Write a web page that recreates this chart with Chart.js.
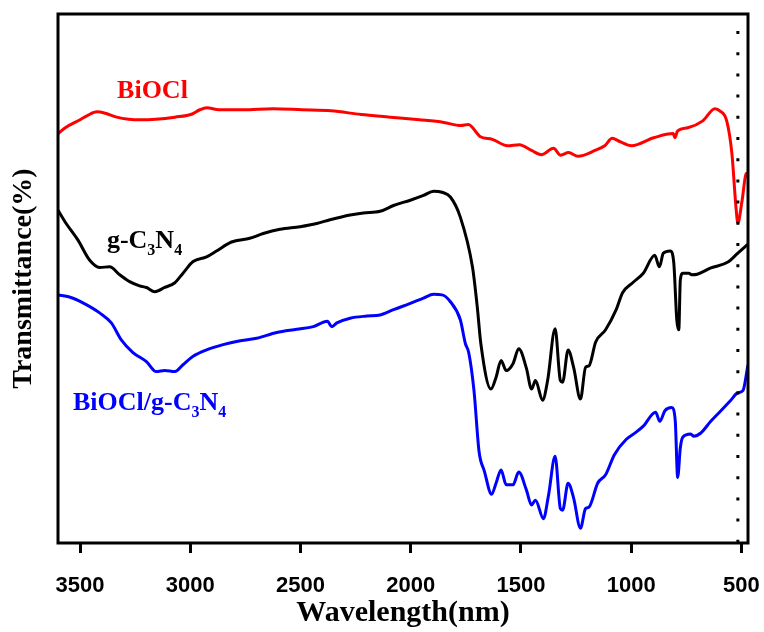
<!DOCTYPE html>
<html>
<head>
<meta charset="utf-8">
<title>FTIR spectra</title>
<script src="https://cdn.jsdelivr.net/npm/chart.js@4.4.1/dist/chart.umd.min.js"></script>
<style>
  html, body { margin: 0; padding: 0; background: #fff; }
  #wrap { width: 764px; height: 632px; }
</style>
</head>
<body>
<div id="wrap"><canvas id="ftirChart"></canvas></div>
<script>
// x axis tick labels (wavenumber)
const xTickValues = [3500, 3000, 2500, 2000, 1500, 1000, 500];

// BiOCl
const redWn = [3600,3567,3500,3467,3423,3390,3334,3280,3225,3157,3070,2991,2957,2925,2870,2759,2625,2493,2361,2225,2093,1961,1850,1773,1739,1684,1630,1561,1507,1452,1407,1352,1320,1284,1241,1164,1120,1086,1052,998,898,809,802,789,743,675,620,598,566,543,525,516,498,477,470];
const redT = [77.4,78.5,80.0,80.8,81.5,81.3,80.5,80.1,80.0,80.1,80.5,81.1,81.9,82.3,81.9,81.9,82.1,81.9,81.7,81.0,80.5,80.0,79.5,78.9,79.1,76.8,76.3,75.1,75.3,74.2,73.4,74.6,73.3,73.8,73.1,74.2,75.1,76.5,75.9,75.1,76.6,77.4,76.6,77.9,78.5,79.8,82.1,81.7,79.7,73.6,63.7,60.5,64.4,69.9,69.1];

// g-C3N4
const blackWn = [3600,3563,3510,3457,3411,3366,3320,3275,3230,3199,3161,3116,3070,3033,2987,2926,2881,2813,2730,2669,2593,2502,2426,2366,2275,2215,2139,2078,2002,1942,1896,1858,1820,1775,1720,1698,1682,1636,1613,1590,1567,1536,1510,1475,1452,1434,1402,1379,1345,1321,1311,1286,1261,1230,1207,1191,1161,1116,1068,1039,993,945,893,872,854,823,807,793,784,777,766,739,725,700,638,561,516,470];
const blackT = [62.9,60.4,57.3,53.5,52.1,52.2,50.7,49.4,48.6,48.3,47.5,48.3,49.2,51.0,53.2,54.1,55.2,56.9,57.6,58.5,59.3,59.8,60.4,61.1,62.0,62.4,62.7,63.8,64.8,65.7,66.5,66.3,65.4,61.6,52.2,44.6,37.7,29.1,31.3,34.5,32.6,33.9,36.7,33.0,29.1,30.7,27.0,30.7,40.5,30.7,30.4,36.5,33.2,27.2,33.2,33.5,38.0,40.3,44.1,47.3,49.2,51.0,54.4,52.2,54.8,55.2,53.1,42.2,40.3,49.7,51.0,51.0,50.7,50.8,52.0,53.1,54.8,56.5];

// BiOCl/g-C3N4
const blueWn = [3600,3548,3487,3411,3358,3313,3260,3199,3154,3116,3070,3033,2987,2926,2851,2790,2699,2608,2517,2442,2378,2358,2335,2275,2199,2139,2078,2002,1942,1896,1858,1820,1775,1752,1737,1713,1690,1666,1633,1613,1590,1567,1536,1510,1475,1452,1434,1398,1375,1345,1321,1311,1286,1261,1230,1207,1191,1152,1116,1076,1022,976,945,889,870,847,816,800,789,777,766,730,716,684,639,593,548,516,493,470];
const blueT = [46.9,46.5,45.4,43.5,41.6,38.4,36.0,34.3,32.4,32.6,32.4,33.7,35.3,36.5,37.5,38.1,38.7,39.8,40.4,40.9,41.9,40.9,41.6,42.5,42.9,43.1,44.1,45.3,46.3,47.0,46.9,45.6,42.2,37.7,36.0,28.8,17.3,13.6,9.2,11.3,13.8,11.0,11.0,13.4,10.0,7.2,8.1,4.6,9.0,16.4,6.5,6.2,11.3,8.5,2.8,6.5,6.8,11.3,12.9,16.7,19.6,21.0,22.1,24.7,23.0,25.0,25.6,23.1,12.4,18.0,20.0,20.6,20.2,20.8,23.0,25.0,27.0,28.4,28.8,33.7];

// dotted marker line position
const markerWn = 516;

function toPoints(xs, ys) {
    return xs.map((x, i) => ({ x: x, y: ys[i] }));
}

// in-plot labels: [text, subscript?] parts, anchored in data units
const seriesLabels = [
    { parts: [['BiOCl', false]], wn: 3332, t: 84.1, color: '#ff0000' },
    { parts: [['g-C', false], ['3', true], ['N', false], ['4', true]], wn: 3378, t: 55.8, color: '#000000' },
    { parts: [['BiOCl/g-C', false], ['3', true], ['N', false], ['4', true]], wn: 3532, t: 25.1, color: '#0000ff' }
];

const framePlugin = {
    id: 'frame',
    afterDatasetsDraw(chart) {
        const ctx = chart.ctx;
        const a = chart.chartArea;
        const xs = chart.scales.x;
        const ys = chart.scales.y;
        ctx.save();
        // dotted vertical marker
        const mx = xs.getPixelForValue(markerWn);
        ctx.strokeStyle = '#000';
        ctx.lineWidth = 3;
        ctx.setLineDash([3, 18.2]);
        ctx.beginPath();
        ctx.moveTo(mx, a.top + 17);
        ctx.lineTo(mx, a.bottom);
        ctx.stroke();
        ctx.setLineDash([]);
        // frame
        ctx.lineWidth = 3;
        ctx.strokeRect(a.left, a.top, a.right - a.left, a.bottom - a.top);
        // labels
        ctx.textBaseline = 'alphabetic';
        ctx.textAlign = 'left';
        seriesLabels.forEach(lab => {
            let x = xs.getPixelForValue(lab.wn);
            const y = ys.getPixelForValue(lab.t);
            ctx.fillStyle = lab.color;
            lab.parts.forEach(p => {
                if (p[1]) {
                    ctx.font = 'bold 16px "Liberation Serif", "Times New Roman", serif';
                    ctx.fillText(p[0], x, y + 7);
                } else {
                    ctx.font = 'bold 26px "Liberation Serif", "Times New Roman", serif';
                    ctx.fillText(p[0], x, y);
                }
                x += ctx.measureText(p[0]).width;
            });
        });
        ctx.restore();
    }
};

const ctx = document.getElementById('ftirChart').getContext('2d');
new Chart(ctx, {
    type: 'line',
    data: {
        datasets: [
            { label: 'BiOCl', data: toPoints(redWn, redT), borderColor: '#ff0000' },
            { label: 'g-C3N4', data: toPoints(blackWn, blackT), borderColor: '#000000' },
            { label: 'BiOCl/g-C3N4', data: toPoints(blueWn, blueT), borderColor: '#0000ff' }
        ]
    },
    options: {
        responsive: true,
        maintainAspectRatio: false,
        animation: false,
        layout: { padding: { top: 14, right: 16, left: 0, bottom: 0 } },
        elements: {
            line: { borderWidth: 3, cubicInterpolationMode: 'monotone', fill: false },
            point: { radius: 0 }
        },
        plugins: {
            legend: { display: false },
            tooltip: { enabled: false }
        },
        scales: {
            x: {
                type: 'linear',
                reverse: true,
                min: 470,
                max: 3600,
                afterBuildTicks: scale => {
                    scale.ticks = xTickValues.map(v => ({ value: v }));
                },
                afterFit: scale => {
                    scale.height = 89;
                    scale.paddingLeft = 0;
                    scale.paddingRight = 0;
                },
                border: { display: false },
                grid: {
                    drawOnChartArea: false,
                    drawTicks: true,
                    tickLength: 10,
                    color: '#000',
                    lineWidth: 3
                },
                ticks: {
                    color: '#000',
                    padding: 20,
                    maxRotation: 0,
                    autoSkip: false,
                    callback: v => String(v),
                    font: { family: '"Liberation Sans", Arial, sans-serif', size: 22, weight: 'bold' }
                },
                title: {
                    display: true,
                    text: 'Wavelength(nm)',
                    color: '#000',
                    padding: { top: 0, bottom: 1 },
                    font: { family: '"Liberation Serif", "Times New Roman", serif', size: 30, weight: 'bold', lineHeight: 1.2 }
                }
            },
            y: {
                min: 0,
                max: 100,
                afterFit: scale => { scale.width = 58; },
                border: { display: false },
                grid: { display: false },
                ticks: { display: false },
                title: {
                    display: true,
                    text: 'Transmittance(%)',
                    color: '#000',
                    padding: { top: 7, bottom: 0 },
                    font: { family: '"Liberation Serif", "Times New Roman", serif', size: 28, weight: 'bold', lineHeight: 1.2 }
                }
            }
        }
    },
    plugins: [framePlugin]
});
</script>
</body>
</html>
